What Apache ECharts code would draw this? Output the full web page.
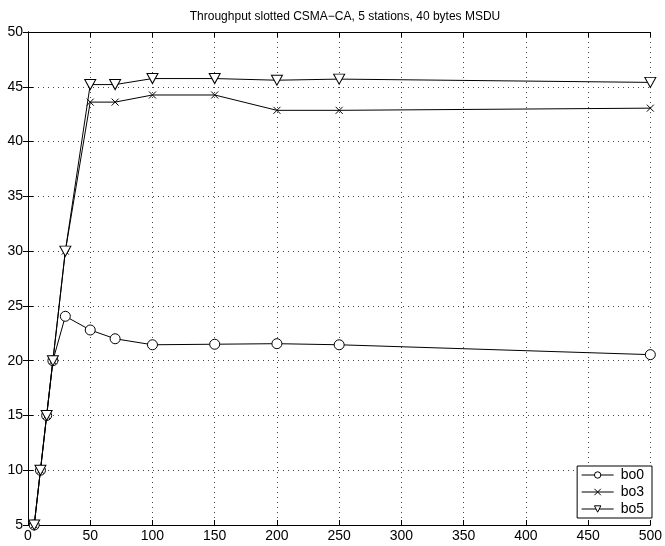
<!DOCTYPE html>
<html>
<head>
<meta charset="utf-8">
<script src="https://cdn.jsdelivr.net/npm/echarts@6/dist/echarts.min.js"></script>
<style>
  html, body { margin: 0; padding: 0; background: #fff; }
  #chart { width: 665px; height: 546px; }
</style>
</head>
<body>
<div id="chart"></div>
<script>
var loads = [5, 10, 15, 20, 30, 50, 70, 100, 150, 200, 250, 500];
var bo0 = [5, 10, 15, 20, 24.05, 22.8, 22.0, 21.45, 21.5, 21.55, 21.45, 20.55];
var bo3 = [5, 10, 15, 20, 30, 43.6, 43.6, 44.25, 44.25, 42.85, 42.85, 43.05];
var bo5 = [5, 10, 15, 20, 30, 45.2, 45.2, 45.75, 45.75, 45.6, 45.7, 45.4];

var font = 'Liberation Sans, Arial, Helvetica, sans-serif';
var myChart = echarts.init(document.getElementById('chart'));

var pairs = function (ys) {
	var res = [];
	for (var i = 0; i < loads.length; i++) {
		res.push([loads[i], ys[i]]);
	}
	return res;
};

var mkSeries = function (name, ys, symbol, size) {
	return {
		name: name,
		type: 'line',
		data: pairs(ys),
		symbol: symbol,
		symbolSize: size,
		showAllSymbol: true,
		lineStyle: { color: '#000', width: 1 },
		itemStyle: { color: '#fff', borderColor: '#000', borderWidth: 1 },
		emphasis: { disabled: true },
		animation: false,
		z: 3
	};
};

var hiddenAxis = {
	axisLine: { show: true, lineStyle: { color: '#000', width: 1 } },
	axisTick: { show: true, inside: true, length: 5, lineStyle: { color: '#000' } },
	axisLabel: { show: false },
	splitLine: { show: false }
};

var option = {
	backgroundColor: '#fff',
	title: {
		text: 'Throughput slotted CSMA\u2212CA, 5 stations, 40 bytes MSDU',
		left: 340,
		textAlign: 'center',
		top: 6,
		textStyle: { fontFamily: font, fontSize: 12, fontWeight: 'normal', color: '#000' }
	},
	grid: { left: 28, right: 12, top: 32, bottom: 21, containLabel: false },
	legend: {
		right: 13,
		bottom: 28,
		orient: 'vertical',
		itemWidth: 32,
		itemHeight: 8,
		itemGap: 3,
		padding: [2, 8, 2, 4],
		backgroundColor: '#fff',
		borderColor: '#000',
		borderWidth: 1,
		borderRadius: 0,
		lineStyle: { width: 1 },
		itemStyle: { borderWidth: 1 },
		textStyle: { fontFamily: font, fontSize: 14, color: '#000', padding: [0, 0, 0, 2] },
		data: ['bo0', 'bo3', 'bo5']
	},
	xAxis: [
		{
			type: 'value',
			min: 0,
			max: 500,
			interval: 50,
			axisLine: { show: true, onZero: false, lineStyle: { color: '#000', width: 1 } },
			axisTick: { show: true, inside: true, length: 5, lineStyle: { color: '#000' } },
			axisLabel: { fontFamily: font, fontSize: 14, color: '#000', margin: 4 },
			splitLine: { show: true, lineStyle: { color: '#444', type: [1, 4], width: 1 } }
		},
		Object.assign({ type: 'value', position: 'top', min: 0, max: 500, interval: 50 }, hiddenAxis)
	],
	yAxis: [
		{
			type: 'value',
			min: 5,
			max: 50,
			interval: 5,
			axisLine: { show: true, onZero: false, lineStyle: { color: '#000', width: 1 } },
			axisTick: { show: true, inside: true, length: 5, lineStyle: { color: '#000' } },
			axisLabel: { fontFamily: font, fontSize: 14, color: '#000', margin: 5 },
			splitLine: { show: true, lineStyle: { color: '#444', type: [1, 4], width: 1 } }
		},
		Object.assign({ type: 'value', position: 'right', min: 5, max: 50, interval: 5 }, hiddenAxis)
	],
	series: [
		mkSeries('bo0', bo0, 'circle', 10),
		mkSeries('bo3', bo3, 'path://M0,0L10,10M10,0L0,10', 7),
		mkSeries('bo5', bo5, 'path://M0,0L10,0L5,9Z', [11, 10])
	]
};
myChart.setOption(option);
</script>
</body>
</html>
